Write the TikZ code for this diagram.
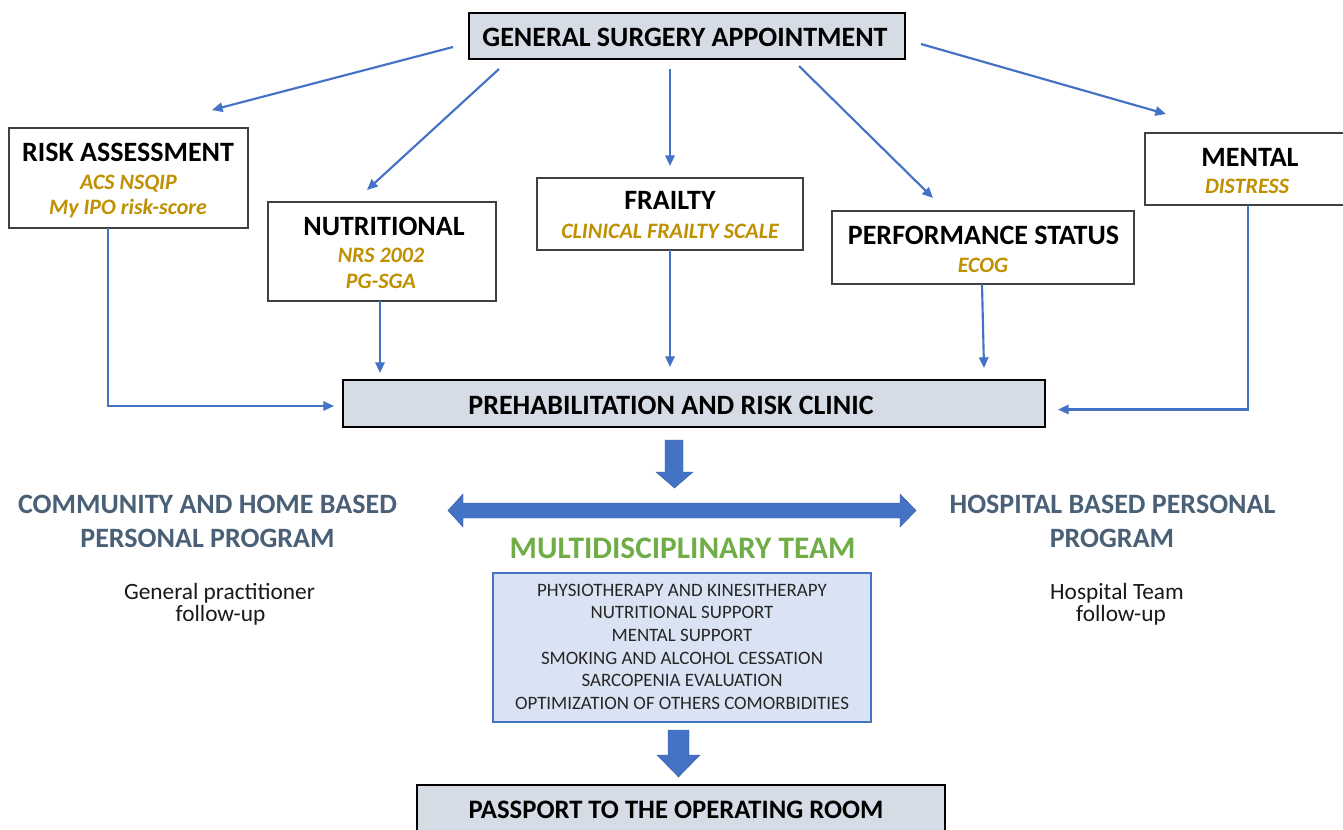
\documentclass[tikz,border=0pt]{standalone}
\usepackage{fontspec}
\setmainfont{Carlito}
\usetikzlibrary{arrows.meta}
\definecolor{cblue}{HTML}{4472C4}
\definecolor{gold}{HTML}{BF9000}
\definecolor{slate}{HTML}{4A6076}
\definecolor{mgreen}{HTML}{70AD47}
\definecolor{boxfill}{HTML}{D6DCE5}
\definecolor{mdtfill}{HTML}{DAE3F3}
\def\pxu{0.75pt}
\tikzset{
  txt/.style={inner sep=0pt, anchor=base, align=center},
  ttl/.style={txt, font=\bfseries\fontsize{21}{25}\selectfont},
  sub/.style={txt, font=\bfseries\itshape\fontsize{16.5}{19}\selectfont, text=gold},
  side/.style={txt, font=\bfseries\fontsize{21}{25}\selectfont, text=slate},
  follow/.style={txt, font=\fontsize{17.5}{16.5}\selectfont, text=black!90},
  lst/.style={txt, font=\fontsize{14.2}{17}\selectfont, text=black!85},
  wbox/.style={draw=black!75, line width=1.1pt, fill=white, inner sep=0pt},
  gbox/.style={draw=black, line width=1.7pt, fill=boxfill, inner sep=0pt},
  conn/.style={draw=cblue, line width=1.6pt, -{Triangle[length=8pt,width=7pt]}},
  block/.style={fill=cblue, draw=cblue!80!black, line width=0.3pt}
}
\begin{document}
\begin{tikzpicture}[x=0.75pt, y=-0.75pt]
\useasboundingbox (0,0) rectangle (1343,829);
\clip (0,0) rectangle (1343,829);
\fill[white] (0,0) rectangle (1343,829);

% boxes
\node[gbox, minimum width=436*\pxu, minimum height=46*\pxu] (gsa) at (687,36) {};
\node[wbox, minimum width=239*\pxu, minimum height=100*\pxu] (risk) at (128.5,178) {};
\node[wbox, minimum width=228*\pxu, minimum height=99*\pxu] (nutr) at (382,251.5) {};
\node[wbox, minimum width=266*\pxu, minimum height=72*\pxu] (frail) at (670,214) {};
\node[wbox, minimum width=302*\pxu, minimum height=73*\pxu] (perf) at (983,247.5) {};
\node[wbox, minimum width=205*\pxu, minimum height=72*\pxu] (mental) at (1247.5,169) {};
\node[gbox, minimum width=702*\pxu, minimum height=47*\pxu] (prehab) at (694,403.5) {};
\node[draw=cblue, line width=1.1pt, fill=mdtfill, inner sep=0pt, minimum width=378*\pxu, minimum height=149*\pxu] (mdt) at (682,647.5) {};
\node[gbox, minimum width=528*\pxu, minimum height=60*\pxu] (pass) at (681,815) {};

% texts
\node[ttl] (gsaT) at (685,46) {GENERAL SURGERY APPOINTMENT};
\node[ttl] (riskT) at (128,161) {RISK ASSESSMENT};
\node[sub] (riskS1) at (128.5,189) {ACS NSQIP};
\node[sub] (riskS2) at (128,214) {My IPO risk-score};
\node[ttl] (nutrT) at (384,235) {NUTRITIONAL};
\node[sub] (nutrS1) at (381,262) {NRS 2002};
\node[sub] (nutrS2) at (381,288) {PG-SGA};
\node[ttl] (frailT) at (670,209) {FRAILTY};
\node[sub] (frailS) at (670,238) {CLINICAL FRAILTY SCALE};
\node[ttl] (perfT) at (983.5,244) {PERFORMANCE STATUS};
\node[sub] (perfS) at (983,272) {ECOG};
\node[ttl] (mentalT) at (1250,166) {MENTAL};
\node[sub] (mentalS) at (1247,193) {DISTRESS};
\node[ttl] (prehabT) at (671,414) {PREHABILITATION AND RISK CLINIC};
\node[ttl, font=\bfseries\fontsize{20}{24}\selectfont] (passT) at (676,818) {PASSPORT TO THE OPERATING ROOM};

\node[side] (comm1) at (207.5,513) {COMMUNITY AND HOME BASED};
\node[side] (comm2) at (207.5,547) {PERSONAL PROGRAM};
\node[side] (hosp1) at (1112.5,513) {HOSPITAL BASED PERSONAL};
\node[side] (hosp2) at (1112,547) {PROGRAM};
\node[follow] (gp1) at (219.5,599) {General practitioner};
\node[follow] (gp2) at (220.5,621) {follow-up};
\node[follow] (ht1) at (1117,599) {Hospital Team};
\node[follow] (ht2) at (1121,621) {follow-up};

\node[txt, font=\bfseries\fontsize{23.5}{28}\selectfont, text=mgreen] (mdtT) at (682.5,558) {MULTIDISCIPLINARY TEAM};
\node[lst] (l1) at (682,596) {PHYSIOTHERAPY AND KINESITHERAPY};
\node[lst] (l2) at (682,618.8) {NUTRITIONAL SUPPORT};
\node[lst] (l3) at (682,641.2) {MENTAL SUPPORT};
\node[lst] (l4) at (682,664) {SMOKING AND ALCOHOL CESSATION};
\node[lst] (l5) at (682,686.8) {SARCOPENIA EVALUATION};
\node[lst] (l6) at (682,709.2) {OPTIMIZATION OF OTHERS COMORBIDITIES};

% connector end points
\coordinate (g1) at (453,47);   \coordinate (a1) at (212,110);
\coordinate (g2) at (499,69);   \coordinate (a2) at (367,190);
\coordinate (g3) at (670,69);   \coordinate (a3) at (670,166);
\coordinate (g4) at (799,66);   \coordinate (a4) at (933,198);
\coordinate (g5) at (921,44);   \coordinate (a5) at (1166,114);

\draw[conn] (g1) -- (a1);
\draw[conn] (g2) -- (a2);
\draw[conn] (g3) -- (a3);
\draw[conn] (g4) -- (a4);
\draw[conn] (g5) -- (a5);

\coordinate (r1) at (108,228); \coordinate (r2) at (108,406); \coordinate (r3) at (334,406);
\draw[conn] (r1) -- (r2) -- (r3);
\coordinate (n1) at (380,301); \coordinate (n2) at (380,373);
\draw[conn] (n1) -- (n2);
\coordinate (f1) at (670,250); \coordinate (f2) at (670,367);
\draw[conn] (f1) -- (f2);
\coordinate (p1) at (982,284); \coordinate (p2) at (984,368);
\draw[conn] (p1) -- (p2);
\coordinate (m1) at (1248,205); \coordinate (m2) at (1248,409.5); \coordinate (m3) at (1058,409.5);
\draw[conn] (m1) -- (m2) -- (m3);

% block arrows
\fill[block] (665,440) -- (683,440) -- (683,472) -- (693,472) -- (674.5,488) -- (656,472) -- (665,472) -- cycle;
\fill[block] (448,510.5) -- (463,494) -- (463,503) -- (900,503) -- (900,494) -- (916,510.5) -- (900,527) -- (900,518) -- (463,518) -- (463,527) -- cycle;
\fill[block] (668,730) -- (689,730) -- (689,755) -- (700,755) -- (678.5,777) -- (657,755) -- (668,755) -- cycle;
\end{tikzpicture}
\end{document}
